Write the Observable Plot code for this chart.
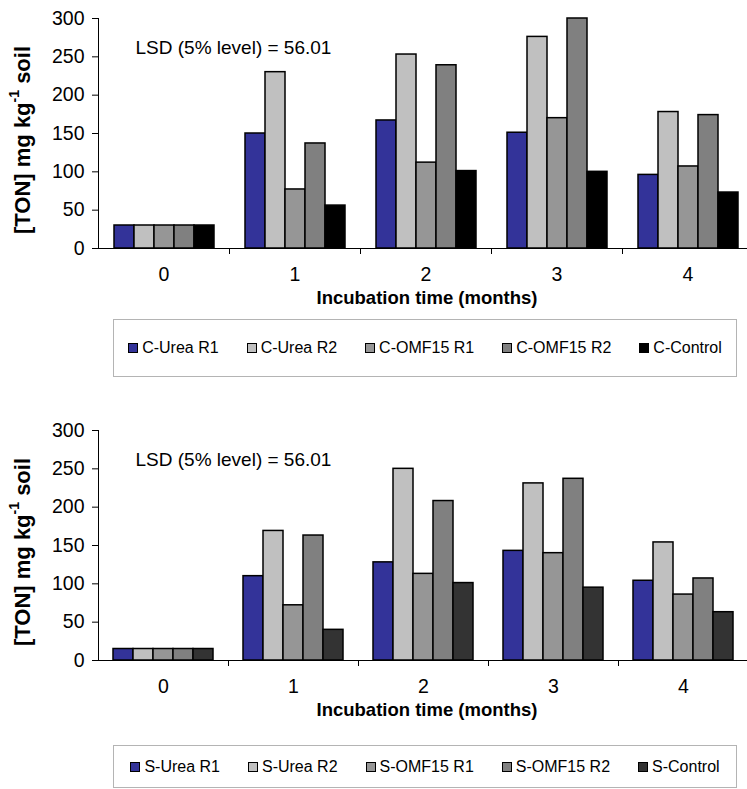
<!DOCTYPE html>
<html><head><meta charset="utf-8">
<script src="https://cdn.jsdelivr.net/npm/d3@7"></script>
<script src="https://cdn.jsdelivr.net/npm/@observablehq/plot@0.6"></script>
<style>
html,body{margin:0;padding:0;background:#fff;overflow:hidden;}
#page{position:relative;width:747px;height:789px;overflow:hidden;font-family:"Liberation Sans",Arial,sans-serif;color:#000;background:#fff;}
.chart{position:absolute;left:0;width:760px;}
.xtitle{position:absolute;left:96px;width:662px;text-align:center;font-weight:bold;font-size:18.5px;line-height:22px;}
.legend{position:absolute;left:113px;width:624px;border:1px solid #b4b4b4;box-sizing:border-box;display:flex;align-items:center;justify-content:center;gap:28px;font-size:16px;}
.item{display:flex;align-items:center;white-space:nowrap;}
.sw{width:8px;height:8px;border:1px solid #000;margin-right:4px;}
</style></head>
<body><div id="page"></div>
<script>
// ---- data ----
const months = ["0", "1", "2", "3", "4"];
const yTicks = [0, 50, 100, 150, 200, 250, 300];
const xTitle = "Incubation time (months)";
const lsdText = "LSD (5% level) = 56.01";

const cSeries = ["C-Urea R1", "C-Urea R2", "C-OMF15 R1", "C-OMF15 R2", "C-Control"];
const cUreaR1  = [30, 150, 167, 151, 96];
const cUreaR2  = [30, 230, 253, 276, 178];
const cOmfR1   = [30, 77, 112, 170, 107];
const cOmfR2   = [30, 137, 239, 300, 174];
const cControl = [30, 56, 101, 100, 73];
const cColors  = ["#333399", "#C0C0C0", "#969696", "#808080", "#000000"];

const sSeries = ["S-Urea R1", "S-Urea R2", "S-OMF15 R1", "S-OMF15 R2", "S-Control"];
const sUreaR1  = [15, 110, 128, 143, 104];
const sUreaR2  = [15, 169, 250, 231, 154];
const sOmfR1   = [15, 72, 113, 140, 86];
const sOmfR2   = [15, 163, 208, 237, 107];
const sControl = [15, 40, 101, 95, 63];
const sColors  = ["#333399", "#C0C0C0", "#969696", "#808080", "#333333"];

const page = document.getElementById("page");
const FONT = '"Liberation Sans", Arial, sans-serif';

function drawChart({series, columns, colors, width, top, legendTop, legendHeight}) {
  const data = months.flatMap((m, i) => series.map((s, j) => ({month: m, series: s, value: columns[j][i]})));
  const note = [{month: months[0], label: lsdText}];
  const chart = Plot.plot({
    width, height: 290,
    marginTop: 18, marginBottom: 42, marginLeft: 96, marginRight: 0,
    style: {fontFamily: FONT, fontSize: "19px", color: "#000", background: "transparent", overflow: "visible", maxWidth: "none"},
    fx: {domain: months, padding: 0},
    x: {domain: series, paddingInner: 0, paddingOuter: 0.75, axis: null},
    y: {domain: [0, 300]},
    color: {domain: series, range: colors},
    marks: [
      Plot.barY(data, {fx: "month", x: "series", y: "value", fill: "series", stroke: "#000", strokeWidth: 1.5}),
      Plot.ruleY([0], {stroke: "#000", strokeWidth: 1}),
      Plot.axisY({ticks: yTicks, tickSize: 6, tickPadding: 8, tickFormat: d => String(d), label: null, fontSize: 19.5}),
      Plot.axisFx({anchor: "bottom", tickSize: 0, tickPadding: 19, label: null, fontSize: 19.5}),
      Plot.text(note, {fx: "month", text: "label", frameAnchor: "top-left", dx: 37, dy: 22, textAnchor: "start", fontSize: 19})
    ]
  });
  const fx = chart.scale("fx");
  const y = chart.scale("y");
  const svg = d3.select(chart);
  const y0 = y.apply(0), yTop = y.apply(300);
  const x0 = fx.apply(months[0]);
  // y axis line
  svg.append("line").attr("x1", x0 + 0.5).attr("x2", x0 + 0.5).attr("y1", yTop).attr("y2", y0)
    .attr("stroke", "#000");
  // category separators
  months.slice(1).forEach(m => {
    const xx = Math.round(fx.apply(m)) + 0.5;
    svg.append("line").attr("x1", xx).attr("x2", xx).attr("y1", y0).attr("y2", y0 + 6).attr("stroke", "#000");
  });
  // y axis label with superscript
  const yl = svg.append("text")
    .attr("transform", `translate(24,${(y0 + yTop) / 2 + 7}) rotate(-90)`)
    .attr("text-anchor", "middle").attr("dominant-baseline", "middle")
    .attr("font-weight", "bold").attr("font-size", 22).attr("font-family", FONT).attr("fill", "#000");
  yl.append("tspan").text("[TON] mg kg");
  yl.append("tspan").attr("font-size", 14).attr("dy", -9).text("-1");
  yl.append("tspan").attr("dy", 9).text(" soil");

  const holder = document.createElement("div");
  holder.className = "chart";
  holder.style.top = top + "px";
  holder.appendChild(chart);
  page.appendChild(holder);

  const t = document.createElement("div");
  t.className = "xtitle";
  t.style.top = (top + 287) + "px";
  t.textContent = xTitle;
  page.appendChild(t);

  const lg = document.createElement("div");
  lg.className = "legend";
  lg.style.top = legendTop + "px";
  lg.style.height = legendHeight + "px";
  series.forEach((s, i) => {
    const it = document.createElement("div");
    it.className = "item";
    const sw = document.createElement("span");
    sw.className = "sw";
    sw.style.background = colors[i];
    it.appendChild(sw);
    const tx = document.createElement("span");
    tx.textContent = s;
    it.appendChild(tx);
    lg.appendChild(it);
  });
  page.appendChild(lg);
}

drawChart({series: cSeries, columns: [cUreaR1, cUreaR2, cOmfR1, cOmfR2, cControl], colors: cColors,
  width: 754, top: 0, legendTop: 319, legendHeight: 58});
drawChart({series: sSeries, columns: [sUreaR1, sUreaR2, sOmfR1, sOmfR2, sControl], colors: sColors,
  width: 750, top: 412, legendTop: 745, legendHeight: 43});
</script>
</body></html>
